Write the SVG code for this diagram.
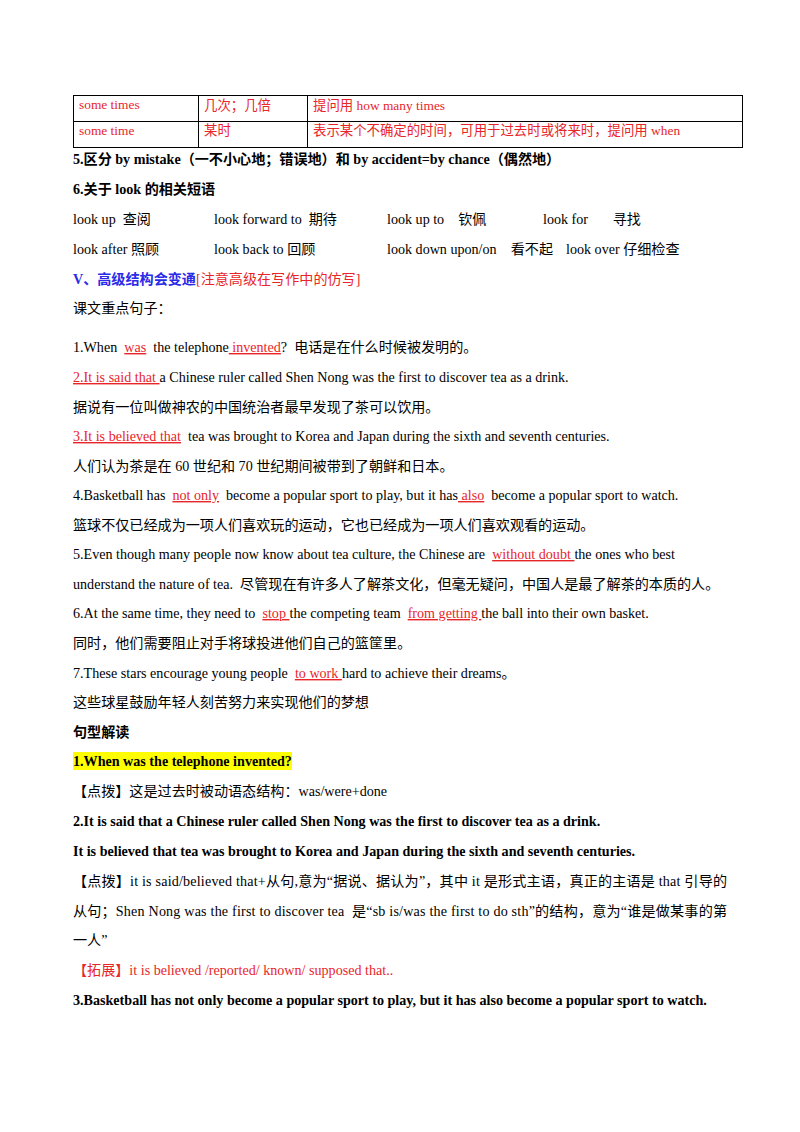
<svg xmlns="http://www.w3.org/2000/svg" width="800" height="1132" viewBox="0 0 800 1132">
<style>
text{font-family:"Liberation Serif","Noto Sans CJK SC",serif;font-size:14.1px;fill:#000;white-space:pre}
#table text{font-size:13.4px}
.r{fill:#e8262a}
.u{text-decoration:underline}
.b{font-weight:bold}
.bl{fill:#2a2ae8;font-weight:bold}
.t{fill:none;stroke:#000;stroke-width:1}
</style>
<rect width="800" height="1132" fill="#fff"/>
<g id="table">
<rect class="t" x="73.500" y="95.500" width="669" height="52"/>
<line class="t" x1="73" y1="121.500" x2="742" y2="121.500"/>
<line class="t" x1="198.500" y1="95" x2="198.500" y2="147"/>
<line class="t" x1="307.500" y1="95" x2="307.500" y2="147"/>
<text x="79" y="109" class="r">some times</text>
<text x="204" y="110" class="r">几次；几倍</text>
<text x="313" y="110" class="r">提问用 how many times</text>
<text x="79" y="135" class="r">some time</text>
<text x="204" y="135" class="r">某时</text>
<text x="313" y="135" class="r">表示某个不确定的时间，可用于过去时或将来时，提问用 when</text>
</g>
<g id="text">
<text x="73" y="164" class="b">5.区分 by mistake（一不小心地；错误地）和 by accident=by chance（偶然地）</text>
<text x="73" y="194" class="b">6.关于 look 的相关短语</text>
<text x="73" y="224">look up  查阅</text>
<text x="214" y="224">look forward to  期待</text>
<text x="387" y="224">look up to    钦佩</text>
<text x="543" y="224">look for       寻找</text>
<text x="73" y="254">look after 照顾</text>
<text x="214" y="254">look back to 回顾</text>
<text x="387" y="254">look down upon/on    看不起</text>
<text x="566" y="254">look over 仔细检查</text>
<text x="73" y="284"><tspan class="bl">V、高级结构会变通</tspan><tspan class="r">[注意高级在写作中的仿写]</tspan></text>
<text x="73" y="313">课文重点句子：</text>
<text x="73" y="352">1.When  <tspan class="r u">was</tspan>  the telephone<tspan class="r u"> invented</tspan>?  电话是在什么时候被发明的。</text>
<text x="73" y="382"><tspan class="r u">2.It is said that </tspan>a Chinese ruler called Shen Nong was the first to discover tea as a drink.</text>
<text x="73" y="412">据说有一位叫做神农的中国统治者最早发现了茶可以饮用。</text>
<text x="73" y="441"><tspan class="r u">3.It is believed that</tspan>  tea was brought to Korea and Japan during the sixth and seventh centuries.</text>
<text x="73" y="471">人们认为茶是在 60 世纪和 70 世纪期间被带到了朝鲜和日本。</text>
<text x="73" y="500">4.Basketball has  <tspan class="r u">not only</tspan>  become a popular sport to play, but it has<tspan class="r u"> also</tspan>  become a popular sport to watch.</text>
<text x="73" y="530">篮球不仅已经成为一项人们喜欢玩的运动，它也已经成为一项人们喜欢观看的运动。</text>
<text x="73" y="559">5.Even though many people now know about tea culture, the Chinese are  <tspan class="r u">without doubt </tspan>the ones who best</text>
<text x="73" y="589">understand the nature of tea.  尽管现在有许多人了解茶文化，但毫无疑问，中国人是最了解茶的本质的人。</text>
<text x="73" y="618">6.At the same time, they need to  <tspan class="r u">stop </tspan>the competing team  <tspan class="r u">from getting </tspan>the ball into their own basket.</text>
<text x="73" y="648">同时，他们需要阻止对手将球投进他们自己的篮筐里。</text>
<text x="73" y="678">7.These stars encourage young people  <tspan class="r u">to work </tspan>hard to achieve their dreams。</text>
<text x="73" y="707">这些球星鼓励年轻人刻苦努力来实现他们的梦想</text>
<text x="73" y="737" class="b">句型解读</text>
<rect x="73" y="752" width="219" height="18" fill="#ffff00"/>
<text x="73" y="766" class="b">1.When was the telephone invented?</text>
<text x="73" y="796">【点拨】这是过去时被动语态结构：was/were+done</text>
<text x="73" y="826" class="b">2.It is said that a Chinese ruler called Shen Nong was the first to discover tea as a drink.</text>
<text x="73" y="856" class="b">It is believed that tea was brought to Korea and Japan during the sixth and seventh centuries.</text>
<text x="73" y="886" textLength="654" lengthAdjust="spacing">【点拨】it is said/believed that+从句,意为“据说、据认为”，其中 it 是形式主语，真正的主语是 that 引导的</text>
<text x="73" y="916" textLength="654" lengthAdjust="spacing">从句；Shen Nong was the first to discover tea  是“sb is/was the first to do sth”的结构，意为“谁是做某事的第</text>
<text x="73" y="945">一人”</text>
<text x="73" y="975" class="r">【拓展】it is believed /reported/ known/ supposed that..</text>
<text x="73" y="1005" class="b">3.Basketball has not only become a popular sport to play, but it has also become a popular sport to watch.</text>
</g>
</svg>
